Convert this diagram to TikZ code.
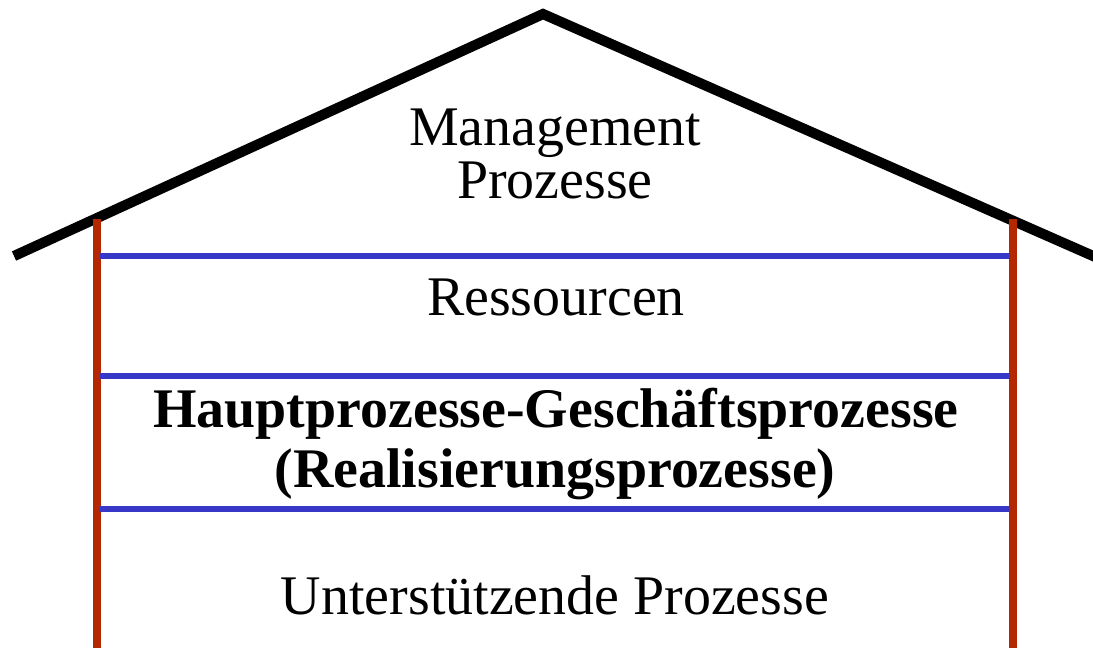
\documentclass[tikz,border=0pt]{standalone}
\usepackage{fontspec}
\setmainfont{Liberation Serif}
\definecolor{wallred}{RGB}{180,40,0}
\definecolor{floorblue}{RGB}{55,55,200}
\tikzset{
  roof/.style={line width=2.9pt, black, line join=miter},
  wall/.style={line width=2pt, wallred},
  floor/.style={line width=1.5pt, floorblue},
  lbl/.style={anchor=base, inner sep=0pt, font=\fontsize{15.9}{18}\selectfont}
}
\begin{document}
\begin{tikzpicture}[x=0.01cm,y=-0.01cm]
\useasboundingbox (0,0) rectangle (1093,647);
% roof
\coordinate (rl) at (14,256);
\coordinate (apex) at (543,14);
\coordinate (rr) at (1100,259);
\draw[roof] (rl) -- (apex) -- (rr);
% walls
\coordinate (wlt) at (97,219);
\coordinate (wlb) at (97,650);
\coordinate (wrt) at (1013,219);
\coordinate (wrb) at (1013,650);
\draw[wall] (wlt) -- (wlb);
\draw[wall] (wrt) -- (wrb);
% floors
\coordinate (f1l) at (100,256); \coordinate (f1r) at (1010,256);
\coordinate (f2l) at (100,376); \coordinate (f2r) at (1010,376);
\coordinate (f3l) at (100,509); \coordinate (f3r) at (1010,509);
\draw[floor] (f1l) -- (f1r);
\draw[floor] (f2l) -- (f2r);
\draw[floor] (f3l) -- (f3r);
% labels
\node[inner sep=0pt, align=center, font=\fontsize{15.9}{13.8}\selectfont] (mp) at (555,154) {Management\\Prozesse};
\node[lbl] (res) at (556,315) {Ressourcen};
\node[lbl,font=\fontsize{15.9}{18}\selectfont\bfseries] (hp) at (556,427) {Hauptprozesse-Geschäftsprozesse};
\node[lbl,font=\fontsize{15.9}{18}\selectfont\bfseries] (rp) at (555,487) {(Realisierungsprozesse)};
\node[lbl] (up) at (555,614) {Unterstützende Prozesse};
\end{tikzpicture}
\end{document}
